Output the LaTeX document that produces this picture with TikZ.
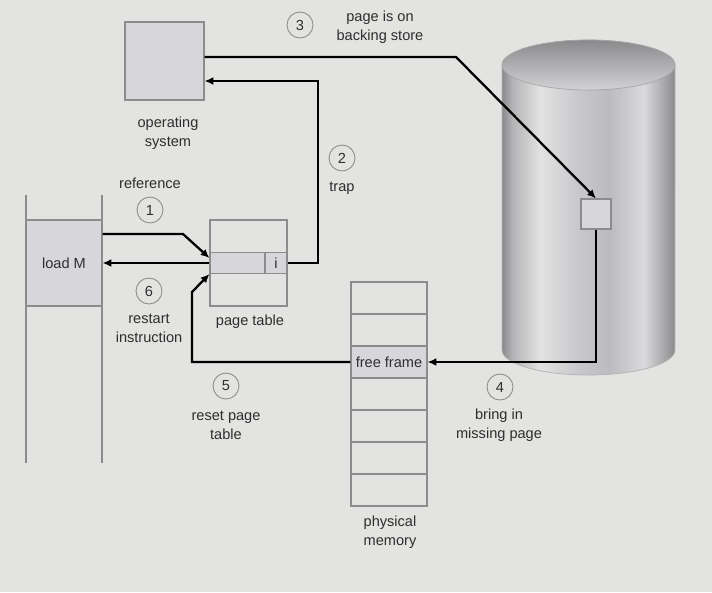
\documentclass[tikz,border=0pt]{standalone}
\usepackage{fontspec}
\setmainfont{Liberation Sans}
\usetikzlibrary{arrows.meta}
\definecolor{bg}{HTML}{E3E3E1}
\definecolor{boxfill}{HTML}{D7D7DB}
\definecolor{edge}{HTML}{8C8C8C}
\definecolor{txt}{HTML}{2E2E2E}
\definecolor{drumA}{HTML}{8A8A8C}
\definecolor{drumB}{HTML}{B4B4B6}
\definecolor{drumC}{HTML}{E2E2E2}
\definecolor{drumD}{HTML}{C8C8CC}
\definecolor{drumE}{HTML}{BCBCC0}
\definecolor{drumF}{HTML}{DADADC}
\definecolor{drumG}{HTML}{A6A6A8}
\pgfdeclarehorizontalshading{drum}{100bp}{color(0bp)=(drumA); color(25bp)=(drumA); color(28bp)=(drumB); color(36bp)=(drumC); color(47bp)=(drumD); color(56bp)=(drumE); color(66bp)=(drumF); color(72bp)=(drumG); color(75bp)=(drumA); color(100bp)=(drumA)}
\tikzset{
  box/.style={draw=edge,line width=0.6pt,fill=boxfill,inner sep=0pt},
  slot/.style={box,minimum width=1.52cm,minimum height=0.64cm},
  num/.style={circle,draw=edge,line width=0.5pt,minimum size=0.52cm,inner sep=0pt},
  lbl/.style={align=center},
  flow/.style={line width=1.3pt,-{Latex[length=5pt,width=4.5pt]}}
}
\begin{document}
\begin{tikzpicture}[x=0.02cm,y=-0.02cm,every node/.style={font=\fontsize{8.3}{10.8}\selectfont,text=txt}]
\fill[bg] (0,0) rectangle (712,592);

% backing store
\shade[shading=drum,draw=gray!60,line width=0.4pt] (502,65) -- (502,350) arc[start angle=180,end angle=360,x radius=1.73cm,y radius=0.5cm] -- (675,65) arc[start angle=0,end angle=180,x radius=1.73cm,y radius=0.5cm] -- cycle;
\shade[top color=drumA,bottom color=drumD!80!white,draw=gray!70,line width=0.4pt] (588.5,65) ellipse[x radius=1.73cm,y radius=0.5cm];
\node[box,minimum width=0.6cm,minimum height=0.6cm] (block) at (596,214) {};

% operating system
\node[box,minimum width=1.58cm,minimum height=1.56cm] (os) at (164.5,61) {};
\node[lbl] (oslbl) at (168,133) {operating\\system};

% process
\draw[edge,line width=0.6pt] (26,195) -- (26,463);
\draw[edge,line width=0.6pt] (102,195) -- (102,463);
\node[box,minimum width=1.52cm,minimum height=1.72cm] (load) at (64,263) {load M};

% page table
\node[box,fill=none,minimum width=1.54cm,minimum height=1.72cm] (pt) at (248.5,263) {};
\node[box,minimum width=1.1cm,minimum height=0.42cm] (row) at (237.5,263) {};
\node[box,minimum width=0.44cm,minimum height=0.42cm] (ibit) at (276,263) {i};
\node (ptlbl) at (250,322) {page table};

% physical memory
\foreach \i in {0,...,6}
  \node[slot,fill=none] (m\i) at (389,298+32*\i) {};
\node[slot] (m2) at (389,362) {free frame};
\node[lbl] (pmlbl) at (390,532) {physical\\memory};

% steps
\node[num] (n1) at (150,210) {1};
\node[lbl] (l1) at (150,183) {reference};
\node[num] (n2) at (342,158) {2};
\node[lbl] (l2) at (342,188) {trap};
\node[num] (n3) at (300,25) {3};
\node[lbl] (l3) at (380,27) {page is on\\backing store};
\node[num] (n4) at (500,387) {4};
\node[lbl] (l4) at (499,425) {bring in\\missing page};
\node[num] (n5) at (226,386) {5};
\node[lbl] (l5) at (226,425) {reset page\\table};
\node[num] (n6) at (149,291) {6};
\node[lbl] (l6) at (149,328) {restart\\instruction};

\draw[flow] ([yshift=0.58cm]load.east) -- (183,234) -- ([yshift=0.1cm]row.west);
\draw[flow] (ibit.east) -- (318,263) |- ([yshift=-0.4cm]os.east);
\draw[flow] ([yshift=0.08cm]os.east) -- (456,57) -- (block.north);
\draw[flow] (block.south) |- (m2.east);
\draw[flow] (m2.west) -- (192,362) -- (192,292) -- (row.south west);
\draw[flow] (row.west) -- (load.east);

\end{tikzpicture}
\end{document}
